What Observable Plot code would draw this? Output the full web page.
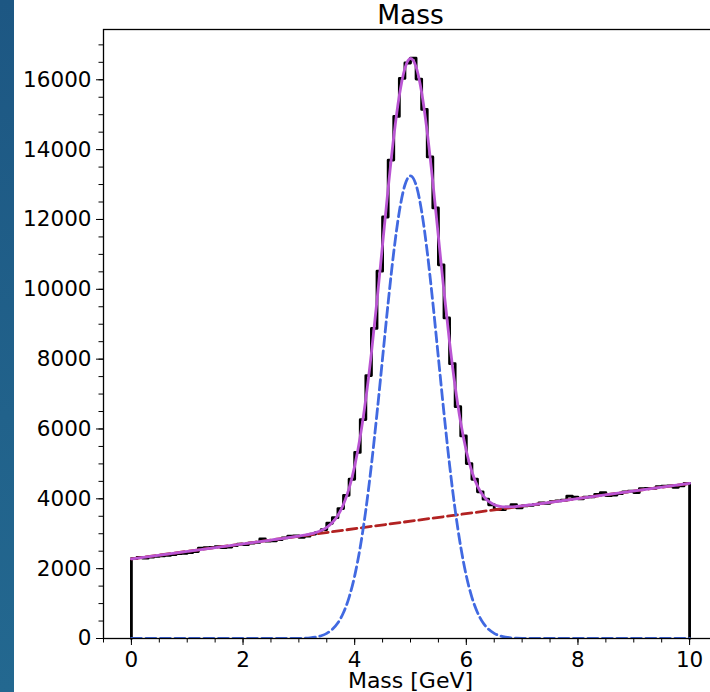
<!DOCTYPE html>
<html><head><meta charset="utf-8">
<script src="https://cdn.jsdelivr.net/npm/d3@7"></script>
<script src="https://cdn.jsdelivr.net/npm/@observablehq/plot@0.6"></script>
<style>
html,body{margin:0;padding:0;background:#fff;}
#wrap{position:relative;width:710px;height:692px;overflow:hidden;background:#fff;}
#strip{position:absolute;left:0;top:0;width:14px;height:692px;background:linear-gradient(180deg,#1d5783,#21628b 60%,#236890);}
#chart{position:absolute;left:0;top:0;width:717px;height:692px;}
#chart svg{max-width:none !important;width:717px !important;height:692px !important;}
</style></head><body>
<div id="wrap"><div id="chart"></div><div id="strip"></div></div>
<script>
// ---- data ----
const titleText = "Mass";
const xLabelText = "Mass [GeV]";
const binStart = 0, binWidth = 0.1;
const histCounts = [
  2290,2320,2300,2330,2350,2370,2380,2400,2430,2440,
  2460,2490,2590,2600,2610,2630,2600,2620,2660,2700,
  2690,2730,2750,2850,2790,2800,2830,2880,2930,2940,
  2900,2930,2990,3040,3120,3300,3460,3720,4100,4560,
  5330,6270,7530,8880,10520,12070,13700,14950,16040,16480,
  16620,16020,15150,13790,12330,10700,9180,7870,6640,5800,
  5010,4560,4200,3990,3830,3700,3690,3760,3830,3740,
  3800,3810,3840,3880,3870,3920,3940,3960,4080,4050,
  4000,4050,4060,4130,4180,4090,4110,4150,4200,4220,
  4180,4290,4300,4300,4350,4360,4370,4330,4370,4440
];
const fitX = [0, ...d3.range(25, 76).map(k => k / 10), 10];
const totalFit = [2280,
  2820,2842,2863,2886,2908,2932,2960,2991,3034,3093,
  3183,3321,3530,3845,4300,4937,5788,6871,8182,9680,
  11288,12895,14363,15548,16326,16610,16370,15634,14493,13067,
  11504,9940,8484,7217,6176,5369,4776,4363,4092,3925,
  3831,3785,3768,3769,3780,3796,3816,3836,3857,3878,3900,
  4440];
const signalFit = [0,
  0,0,0,1,2,4,10,20,41,79,
  147,263,451,744,1178,1793,2622,3684,4973,6450,
  8036,9621,11068,12231,12988,13250,12988,12231,11068,9621,
  8036,6450,4973,3684,2622,1793,1178,744,451,263,
  147,79,41,20,10,4,2,1,0,0,0,
  0];
const bkgX = [0, 10];
const bkgFit = [2280, 4440];
const xTicks = [0, 2, 4, 6, 8, 10];
const yTicks = [0, 2000, 4000, 6000, 8000, 10000, 12000, 14000, 16000];
const xMinor = d3.range(-0.5, 10.51, 0.5);
const yMinor = d3.range(0, 17001, 500);

// ---- tables ----
const histPts = [{x: binStart, y: 0},
  ...histCounts.map((c, i) => ({x: binStart + i * binWidth, y: c})),
  {x: binStart + histCounts.length * binWidth, y: histCounts[histCounts.length - 1]},
  {x: binStart + histCounts.length * binWidth, y: 0}];
const totalPts = fitX.map((x, i) => ({x, y: totalFit[i]}));
const sigPts = fitX.map((x, i) => ({x, y: signalFit[i]}));
const bkgPts = bkgX.map((x, i) => ({x, y: bkgFit[i]}));

const FS = 21.5;
const chart = Plot.plot({
  width: 717, height: 692,
  marginLeft: 103, marginRight: 0, marginTop: 29, marginBottom: 54,
  style: {fontFamily: "DejaVu Sans", fontSize: FS + "px", background: "white", color: "black", overflow: "visible"},
  x: {domain: [-0.5, 10.5]},
  y: {domain: [0, 17440]},
  marks: [
    Plot.line(histPts, {x: "x", y: "y", curve: "step-after", stroke: "black", strokeWidth: 2.8}),
    Plot.line(bkgPts, {x: "x", y: "y", stroke: "#B22222", strokeWidth: 2.8, strokeDasharray: "10,4.5"}),
    Plot.line(sigPts, {x: "x", y: "y", curve: "monotone-x", stroke: "#4169E1", strokeWidth: 2.8, strokeDasharray: "10,4.5", clip: true}),
    Plot.line(totalPts, {x: "x", y: "y", curve: "monotone-x", stroke: "#BA55D3", strokeWidth: 2.8}),
    Plot.frame({stroke: "black", strokeWidth: 1.3}),
    Plot.axisY(yMinor, {tickSize: 4.5, tickFormat: () => "", label: null}),
    Plot.axisY(yTicks, {tickSize: 7, tickFormat: () => "", label: null}),
    Plot.axisX(xMinor, {tickSize: 4.5, tickFormat: () => "", label: null}),
    Plot.axisX(xTicks, {tickSize: 7, tickFormat: () => "", label: null}),
    Plot.text(yTicks, {frameAnchor: "left", y: d => d, text: d => String(d), dx: -12, textAnchor: "end", fontSize: FS, fill: "black"}),
    Plot.text(xTicks, {frameAnchor: "bottom", x: d => d, text: d => String(d), dy: 13, lineAnchor: "top", fontSize: FS, fill: "black"}),
    Plot.text([xLabelText], {frameAnchor: "bottom", dy: 34, lineAnchor: "top", fontSize: 22, fill: "black"}),
    Plot.text([titleText], {frameAnchor: "top", dy: -24.5, lineAnchor: "top", fontSize: 26.5, fill: "black"})
  ]
});
document.getElementById("chart").appendChild(chart);
</script>
</body></html>
